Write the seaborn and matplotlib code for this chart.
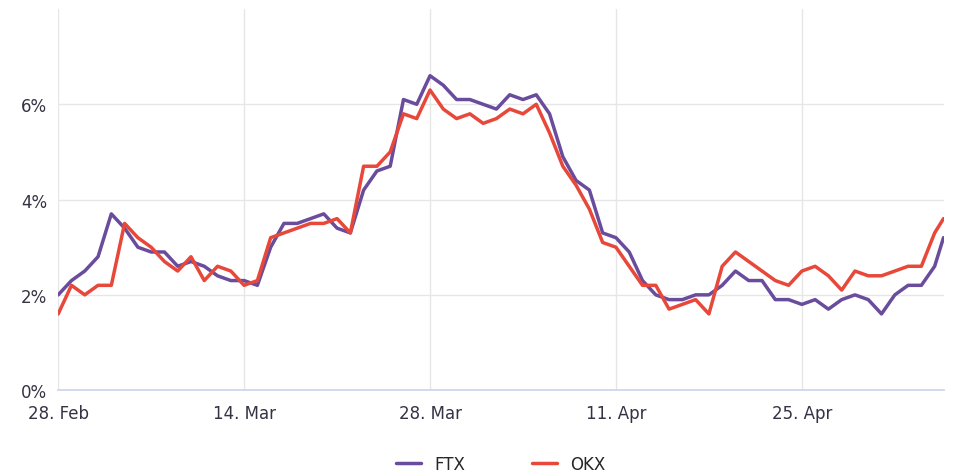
import pandas as pd
import numpy as np
import matplotlib.pyplot as plt
import matplotlib.dates as mdates
import seaborn as sns

# --- Data (daily, from 28 Feb 2022) ---
ftx = [2.0, 2.3, 2.5, 2.8, 3.7, 3.4, 3.0, 2.9, 2.9, 2.6, 2.7, 2.6, 2.4, 2.3, 2.3, 2.2,
       3.0, 3.5, 3.5, 3.6, 3.7, 3.4, 3.3, 4.2, 4.6, 4.7, 6.1, 6.0, 6.6, 6.4, 6.1, 6.1,
       6.0, 5.9, 6.2, 6.1, 6.2, 5.8, 4.9, 4.4, 4.2, 3.3, 3.2, 2.9, 2.3, 2.0, 1.9, 1.9,
       2.0, 2.0, 2.2, 2.5, 2.3, 2.3, 1.9, 1.9, 1.8, 1.9, 1.7, 1.9, 2.0, 1.9, 1.6, 2.0,
       2.2, 2.2, 2.6, 3.2]
okx = [1.6, 2.2, 2.0, 2.2, 2.2, 3.5, 3.2, 3.0, 2.7, 2.5, 2.8, 2.3, 2.6, 2.5, 2.2, 2.3,
       3.2, 3.3, 3.4, 3.5, 3.5, 3.6, 3.3, 4.7, 4.7, 5.0, 5.8, 5.7, 6.3, 5.9, 5.7, 5.8,
       5.6, 5.7, 5.9, 5.8, 6.0, 5.4, 4.7, 4.3, 3.8, 3.1, 3.0, 2.6, 2.2, 2.2, 1.7, 1.8,
       1.9, 1.6, 2.6, 2.9, 2.7, 2.5, 2.3, 2.2, 2.5, 2.6, 2.4, 2.1, 2.5, 2.4, 2.4, 2.5,
       2.6, 2.6, 3.3, 3.6]
dates = pd.date_range('2022-02-28', periods=len(ftx), freq='D')
dates = dates[:-1].append(pd.DatetimeIndex([dates[-2] + pd.Timedelta(hours=16)]))
tick_dates = pd.to_datetime(['2022-02-28', '2022-03-14', '2022-03-28', '2022-04-11', '2022-04-25'])
tick_labels = ['28. Feb', '14. Mar', '28. Mar', '11. Apr', '25. Apr']

df = pd.DataFrame({'date': list(dates) * 2, 'rate': ftx + okx,
                   'exchange': ['FTX'] * len(ftx) + ['OKX'] * len(okx)})

sns.set_theme(style='white')
fig, ax = plt.subplots(figsize=(9.54, 4.77), dpi=100)
sns.lineplot(data=df, x='date', y='rate', hue='exchange',
             palette={'FTX': '#6a4c9c', 'OKX': '#e8483a'}, linewidth=2.5, ax=ax)

ax.set_xlim(dates[0], dates[-1])
ax.set_ylim(0, 8.0)
ax.set_yticks([0, 2, 4, 6])
ax.set_yticklabels(['0%', '2%', '4%', '6%'], color='#333344', fontsize=12)
ax.set_xticks(tick_dates)
ax.set_xticklabels(tick_labels, color='#333344', fontsize=12)
ax.grid(True, color='#e6e6e6', linewidth=1)
ax.set_xlabel('')
ax.set_ylabel('')
for s in ['top', 'right', 'left']:
    ax.spines[s].set_visible(False)
ax.spines['bottom'].set_color('#ccd6eb')
ax.tick_params(axis='x', length=0, pad=10)
ax.tick_params(axis='y', length=0, pad=8)

ax.legend(loc='upper center', bbox_to_anchor=(0.5, -0.13), ncol=2, frameon=False,
          fontsize=12, handlelength=1.5, columnspacing=4)
plt.subplots_adjust(left=0.061, right=0.989, top=0.979, bottom=0.18)
plt.savefig('out.png')
